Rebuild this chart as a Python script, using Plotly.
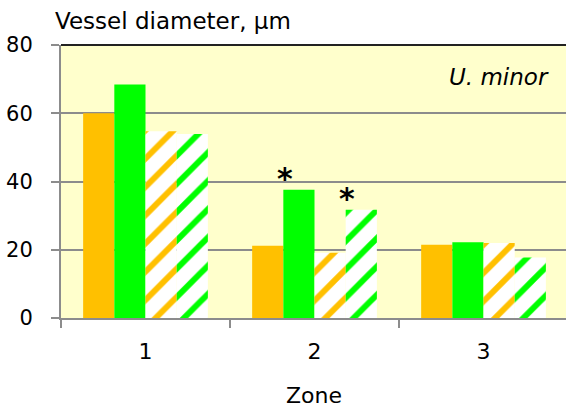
import plotly.graph_objects as go

# Vessel diameter (µm) per zone, U. minor
zones = ["1", "2", "3"]
solid_orange = [60.0, 21.2, 21.5]
solid_green = [68.4, 37.6, 22.2]
hatched_orange = [54.7, 19.1, 22.0]
hatched_green = [53.9, 31.7, 17.7]

# significance marks: (zone index, series index, value)
stars = [(1, 1, 37.6), (1, 3, 31.7)]

ORANGE = "#FFC000"
GREEN = "#00FF00"
FONT = "DejaVu Sans"
GRID = "#8C8C8C"

fig = go.Figure()


def add_bar(values, color, hatched):
    marker = dict(color=color, line=dict(width=0))
    if hatched:
        marker["pattern"] = dict(shape="/", fgcolor=color, bgcolor="white",
                                 size=20, solidity=0.3, fillmode="replace")
    fig.add_trace(go.Bar(x=zones, y=values, marker=marker, showlegend=False))


add_bar(solid_orange, ORANGE, False)
add_bar(solid_green, GREEN, False)
add_bar(hatched_orange, ORANGE, True)
add_bar(hatched_green, GREEN, True)

n_series = 4
bargap = 0.262
bar_w = (1 - bargap) / n_series
annotations = []
for zi, si, val in stars:
    xpos = zi + (si - (n_series - 1) / 2) * bar_w
    annotations.append(dict(x=xpos, y=val, xref="x", yref="y", text="<b>*</b>",
                            showarrow=False, xanchor="center", yanchor="bottom",
                            xshift=-14, yshift=-8,
                            font=dict(family=FONT, size=30, color="black")))

annotations += [
    dict(x=0, y=1, xref="paper", yref="paper", text="Vessel diameter, µm",
         showarrow=False, xanchor="left", yanchor="bottom", xshift=-8, yshift=9,
         font=dict(family=FONT, size=23, color="black")),
    dict(x=1, y=1, xref="paper", yref="paper", text="<i>U. minor</i>",
         showarrow=False, xanchor="right", yanchor="top", xshift=-15, yshift=-17,
         font=dict(family=FONT, size=23, color="black")),
    dict(x=0.5, y=0, xref="paper", yref="paper", text="Zone",
         showarrow=False, xanchor="center", yanchor="top", yshift=-63,
         font=dict(family=FONT, size=22, color="black")),
]

fig.update_layout(
    width=566, height=407,
    margin=dict(l=61, r=0, t=45, b=89),
    paper_bgcolor="white",
    plot_bgcolor="#FFFFCC",
    barmode="group",
    bargap=bargap,
    bargroupgap=0,
    annotations=annotations,
    shapes=[dict(type="line", xref="paper", yref="paper", x0=0, x1=1, y0=1, y1=1,
                 line=dict(color="#222222", width=2))],
)

fig.update_xaxes(
    type="category",
    range=[-0.5, 2.488],
    tickson="boundaries",
    ticks="outside", ticklen=8, tickwidth=2, tickcolor=GRID,
    showline=True, linecolor=GRID, linewidth=2,
    showgrid=False,
    ticklabelstandoff=13,
    tickfont=dict(family=FONT, size=22, color="black"),
)

fig.update_yaxes(
    range=[0, 80],
    tickvals=[0, 20, 40, 60, 80],
    ticks="outside", ticklen=8, tickwidth=2, tickcolor=GRID,
    showline=True, linecolor=GRID, linewidth=2,
    showgrid=True, gridcolor=GRID, gridwidth=2,
    zeroline=False,
    ticklabelstandoff=14,
    tickfont=dict(family=FONT, size=21, color="black"),
)

fig.write_html("out.html")
